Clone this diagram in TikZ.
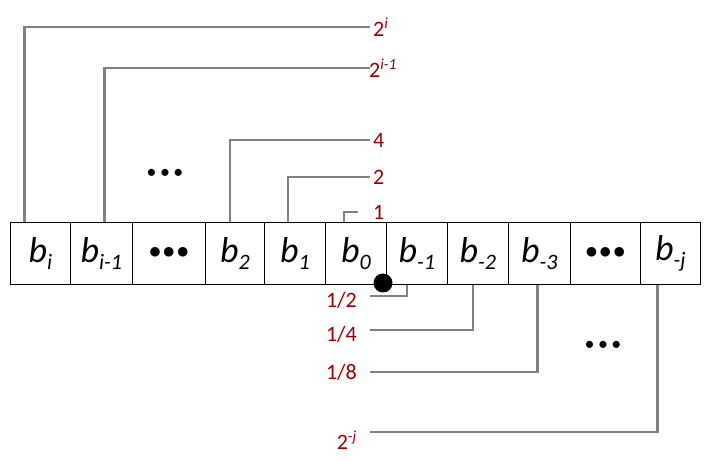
\documentclass[tikz,border=0pt]{standalone}
\usepackage{fontspec}
\setmainfont{Carlito}
\newcommand{\bsb}[1]{\textit{b}{\fontsize{22}{23}\selectfont\raisebox{-7pt}{\textit{#1}}}}
\newcommand{\bigdots}{$\bullet\!\bullet\!\bullet$}
\begin{document}
\begin{tikzpicture}[x=1pt,y=-1pt,
 cell/.style={draw,thick,minimum height=62pt,inner sep=0pt,anchor=north west,font=\fontsize{36}{38}\selectfont},
 lbl/.style={text=red!60!black,font=\fontsize{22}{24}\selectfont,inner sep=1pt},
 ln/.style={draw=gray,line width=2.6pt},
 dots/.style={font=\fontsize{20}{24}\selectfont}]
\useasboundingbox (0,0) rectangle (712,462);
\def\cellat#1#2#3#4{\node[cell,minimum width=#3pt] (#1) at (#2,222) {#4};}
\cellat{c1}{10}{60}{\bsb{i}}
\cellat{c2}{70}{62}{\bsb{i-1}}
\cellat{c3}{132}{73}{\bigdots}
\cellat{c4}{205}{59}{\bsb{2}}
\cellat{c5}{264}{61}{\bsb{1}}
\cellat{c6}{325}{61}{\bsb{0}}
\cellat{c7}{386}{61}{\bsb{-1}}
\cellat{c8}{447}{61}{\bsb{-2}}
\cellat{c9}{508}{62}{\bsb{-3}}
\cellat{c10}{570}{70}{\bigdots}
\cellat{c11}{640}{60}{\bsb{-j}}
\node[lbl,anchor=west] (t1) at (372,27) {2\textsuperscript{\textit{i}}};
\node[lbl,anchor=west] (t2) at (368,68) {2\textsuperscript{\textit{i-1}}};
\node[lbl,anchor=west] (t3) at (372,140) {4};
\node[lbl,anchor=west] (t4) at (372,177) {2};
\node[lbl,anchor=west] (t5) at (372,212) {1};
\node[lbl,anchor=east] (u1) at (358,300) {1/2};
\node[lbl,anchor=east] (u2) at (358,334) {1/4};
\node[lbl,anchor=east] (u3) at (358,372) {1/8};
\node[lbl,anchor=east] (u4) at (358,440) {2\textsuperscript{\textit{-j}}};
\path[ln] ([xshift=-16pt]c1.north) |- ([xshift=-2pt]t1.west);
\path[ln] ([xshift=3pt]c2.north) |- ([xshift=2pt]t2.west);
\path[ln] ([xshift=-5pt]c4.north) |- ([xshift=-2pt]t3.west);
\path[ln] ([xshift=-7pt]c5.north) |- ([xshift=-2pt]t4.west);
\path[ln] ([xshift=-12pt]c6.north) |- ([xshift=-14pt]t5.west);
\path[ln] ([xshift=-10pt]c7.south) |- ([xshift=12pt]u1.east |- 0,296);
\path[ln] ([xshift=-5pt]c8.south) |- ([xshift=12pt]u2.east |- 0,330);
\path[ln] ([xshift=-2pt]c9.south) |- ([xshift=12pt]u3.east);
\path[ln] ([xshift=-13pt]c11.south) |- ([xshift=12pt]u4.east |- 0,432);
\node[dots] (d1) at (165,174) {\textbullet\,\textbullet\,\textbullet};
\node[circle,fill=black,minimum size=19pt,inner sep=0pt] (dot) at (383,283) {};
\node[dots] (d2) at (603,346) {\textbullet\,\textbullet\,\textbullet};
\end{tikzpicture}
\end{document}
